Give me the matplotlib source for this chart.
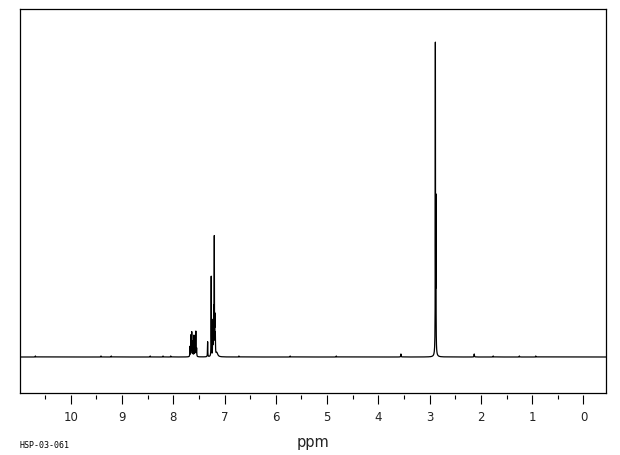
import numpy as np
import matplotlib
matplotlib.use("Agg")
import matplotlib.pyplot as plt
from matplotlib.ticker import MultipleLocator

# Peak list: position (ppm), height (arb.), half-width (ppm)
peak_ppm = [2.888, 2.877, 2.884,
            7.200, 7.212, 7.222, 7.190, 7.180, 7.232, 7.150,
            7.260, 7.330,
            7.675, 7.655, 7.640, 7.620, 7.597, 7.577, 7.560, 7.545,
            10.69, 9.41, 9.21, 8.45, 8.20, 8.05, 6.72, 5.72, 4.82, 3.56, 2.13, 1.76, 1.25, 0.93]
peak_height = [292, 140, 22,
               116, 44, 32, 34, 20, 16, 4,
               80, 15,
               10, 21, 24, 15, 21, 13, 25, 8,
               1, 1, 1, 1, 1, 1, 1, 1, 1, 3, 3, 1, 1, 1]
peak_hwhm = [0.002, 0.002, 0.009,
             0.0025, 0.0025, 0.0025, 0.0025, 0.003, 0.0025, 0.02,
             0.0025, 0.003,
             0.003, 0.003, 0.003, 0.003, 0.003, 0.003, 0.003, 0.003,
             0.003, 0.003, 0.003, 0.003, 0.003, 0.003, 0.003, 0.003, 0.003, 0.004, 0.004, 0.003, 0.003, 0.003]

major_ticks = [0, 1, 2, 3, 4, 5, 6, 7, 8, 9, 10]
tick_labels = [str(t) for t in major_ticks]
x_left, x_right = 10.99, -0.44

ppm = np.union1d(np.linspace(x_right, x_left, 40000), peak_ppm)
spec = np.zeros_like(ppm)
for c, h, w in zip(peak_ppm, peak_height, peak_hwhm):
    spec += h / (1.0 + ((ppm - c) / w) ** 2)

fig = plt.figure(figsize=(6.2, 4.55), dpi=100)
ax = fig.add_axes([20/620, 1 - 393/455, 586/620, 384/455])
ax.plot(ppm, spec, color="black", lw=0.9)
ax.set_xlim(x_left, x_right)
ax.set_ylim(-36, 348)
ax.set_xticks([])
ax.set_yticks([])
for s in ax.spines.values():
    s.set_linewidth(0.9)
    s.set_color("black")

sec = ax.secondary_xaxis(-2/384)
sec.spines["bottom"].set_visible(False)
sec.set_xticks(major_ticks)
sec.set_xticklabels(tick_labels, fontsize=8.5, family="DejaVu Sans", color="#222222")
sec.xaxis.set_minor_locator(MultipleLocator(0.5))
sec.tick_params(which="major", direction="out", length=6.5, width=0.8, pad=5)
sec.tick_params(which="minor", direction="out", length=3, width=0.8)

fig.text(313/620, 1 - 442/455, "ppm", ha="center", va="center", fontsize=10.5,
         family="DejaVu Sans", color="#222222")
fig.text(20/620, 1 - 445/455, "HSP-03-061", ha="left", va="center", fontsize=6,
         family="DejaVu Sans Mono")

fig.savefig("out.png", dpi=100)
